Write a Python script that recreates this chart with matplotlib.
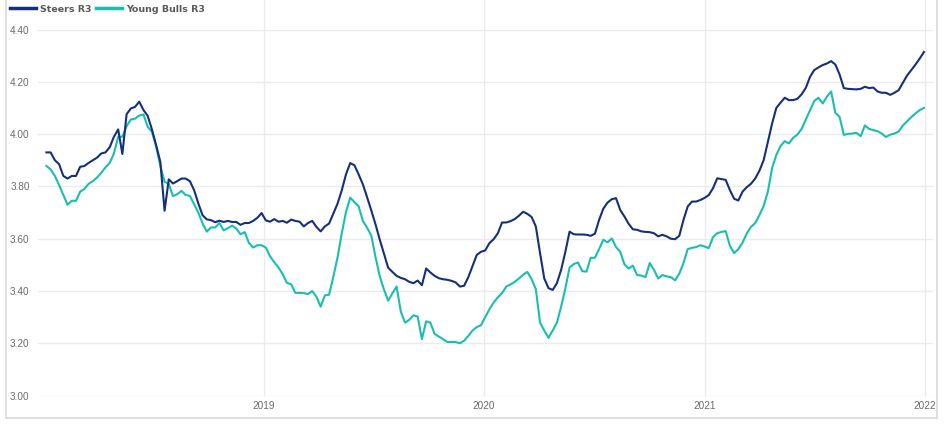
import numpy as np
import pandas as pd
import matplotlib
matplotlib.use("Agg")
import matplotlib.pyplot as plt
from matplotlib.lines import Line2D

# weekly prices, Jan 2018 - Dec 2021
start = "2018-01-05"
steers = [
    3.93, 3.93, 3.90, 3.885, 3.84, 3.83, 3.84, 3.84, 3.875, 3.878,
    3.89, 3.90, 3.91, 3.926, 3.93, 3.95, 3.99, 4.018, 3.924, 4.076,
    4.098, 4.104, 4.124, 4.092, 4.07, 4.018, 3.958, 3.894, 3.707, 3.827,
    3.811, 3.82, 3.83, 3.83, 3.82, 3.786, 3.735, 3.69, 3.674, 3.671,
    3.663, 3.669, 3.664, 3.668, 3.664, 3.664, 3.653, 3.66, 3.66, 3.668,
    3.68, 3.698, 3.67, 3.665, 3.675, 3.665, 3.668, 3.661, 3.673, 3.668,
    3.665, 3.647, 3.66, 3.668, 3.645, 3.628, 3.647, 3.658, 3.696, 3.734,
    3.785, 3.846, 3.889, 3.881, 3.846, 3.808, 3.759, 3.708, 3.655, 3.597,
    3.543, 3.489, 3.473, 3.458, 3.45, 3.445, 3.435, 3.43, 3.44, 3.422,
    3.486, 3.471, 3.458, 3.449, 3.445, 3.443, 3.439, 3.433, 3.417, 3.42,
    3.453, 3.496, 3.538, 3.55, 3.555, 3.583, 3.598, 3.621, 3.662, 3.662,
    3.667, 3.675, 3.688, 3.703, 3.695, 3.683, 3.647, 3.545, 3.448, 3.411,
    3.404, 3.43, 3.481, 3.55, 3.627, 3.617, 3.616, 3.616, 3.615, 3.611,
    3.619, 3.672, 3.715, 3.738, 3.751, 3.755, 3.71, 3.685, 3.657, 3.636,
    3.634, 3.628, 3.626, 3.625, 3.621, 3.609, 3.615, 3.609, 3.60, 3.598,
    3.611, 3.672, 3.723, 3.742, 3.742, 3.748, 3.756, 3.767, 3.793, 3.831,
    3.828, 3.825, 3.786, 3.753, 3.746, 3.78, 3.797, 3.81, 3.83, 3.86,
    3.90, 3.97, 4.04, 4.10, 4.12, 4.139, 4.13, 4.13, 4.135, 4.152,
    4.177, 4.219, 4.245, 4.255, 4.264, 4.27, 4.279, 4.266, 4.228, 4.176,
    4.173, 4.172, 4.171, 4.173, 4.181, 4.176, 4.178, 4.163, 4.158, 4.158,
    4.15, 4.158, 4.168, 4.196, 4.224, 4.245, 4.266, 4.289, 4.314,
]
young_bulls = [
    3.878, 3.865, 3.84, 3.805, 3.767, 3.73, 3.745, 3.745, 3.78, 3.79,
    3.81, 3.82, 3.834, 3.852, 3.873, 3.89, 3.926, 3.99, 3.99, 4.03,
    4.056, 4.059, 4.071, 4.075, 4.028, 4.009, 3.952, 3.878, 3.818, 3.809,
    3.763, 3.77, 3.783, 3.767, 3.764, 3.732, 3.70, 3.659, 3.627, 3.643,
    3.643, 3.66, 3.632, 3.64, 3.65, 3.639, 3.617, 3.625, 3.584, 3.566,
    3.575, 3.575, 3.566, 3.533, 3.51, 3.49, 3.464, 3.431, 3.426, 3.393,
    3.393, 3.392, 3.388, 3.40, 3.378, 3.34, 3.383, 3.386, 3.454, 3.528,
    3.62, 3.702, 3.757, 3.74, 3.724, 3.668, 3.642, 3.612, 3.53, 3.457,
    3.406, 3.363, 3.391, 3.417, 3.321, 3.279, 3.29, 3.307, 3.302, 3.216,
    3.284, 3.279, 3.236, 3.226, 3.216, 3.205, 3.205, 3.205, 3.20, 3.21,
    3.228, 3.249, 3.262, 3.269, 3.30, 3.33, 3.356, 3.376, 3.392, 3.417,
    3.425, 3.435, 3.448, 3.462, 3.473, 3.445, 3.407, 3.279, 3.249, 3.221,
    3.249, 3.279, 3.34, 3.41, 3.49, 3.503, 3.509, 3.476, 3.474, 3.527,
    3.527, 3.56, 3.596, 3.586, 3.601, 3.568, 3.55, 3.502, 3.486, 3.497,
    3.461, 3.459, 3.453, 3.507, 3.481, 3.448, 3.461, 3.456, 3.453, 3.441,
    3.466, 3.507, 3.56, 3.565, 3.568, 3.575, 3.57, 3.564, 3.606, 3.621,
    3.626, 3.629, 3.573, 3.545, 3.56, 3.585, 3.62, 3.645, 3.66, 3.69,
    3.725, 3.78, 3.87, 3.92, 3.954, 3.973, 3.964, 3.986, 3.998, 4.02,
    4.056, 4.092, 4.127, 4.139, 4.117, 4.143, 4.163, 4.081, 4.066, 3.997,
    4.001, 4.002, 4.005, 3.992, 4.033, 4.02, 4.015, 4.011, 4.002, 3.989,
    3.998, 4.002, 4.01, 4.033, 4.049, 4.065, 4.079, 4.092, 4.10,
]
year_ticks = ["2019", "2020", "2021", "2022"]
y_ticks = [3.0, 3.2, 3.4, 3.6, 3.8, 4.0, 4.2, 4.4]

dates = pd.date_range(start, periods=len(steers), freq="7D")

fig = plt.figure(figsize=(9.47, 4.26), dpi=100)
ax = fig.add_axes([38 / 947, 1 - 395.6 / 426, (933 - 38) / 947, (395.6 - 29.5) / 426])

grid_c = "#ebebeb"
years = [pd.Timestamp(y + "-01-01") for y in year_ticks]
for yv in y_ticks:
    ax.axhline(yv, color=grid_c, lw=1, zorder=0)
ax.vlines(years, 3.0, 4.52, color=grid_c, lw=1, zorder=0, clip_on=False)

ax.plot(dates, steers, color="#14307a", lw=1.5, label="Steers R3", zorder=3)
ax.plot(dates, young_bulls, color="#19bfae", lw=1.5, label="Young Bulls R3", zorder=2)

ax.set_xlim(pd.Timestamp("2017-12-22"), pd.Timestamp("2022-01-15"))
ax.set_ylim(3.0, 4.4)
ax.set_xticks(years)
ax.set_xticklabels(year_ticks)
ax.set_yticks(y_ticks)
ax.set_yticklabels(["%.2f" % v for v in y_ticks])
for s in ax.spines.values():
    s.set_visible(False)
ax.tick_params(length=0, labelsize=7.2, labelcolor="#6a6a6a")
ax.tick_params(axis="y", pad=6)
ax.tick_params(axis="x", pad=4)
for lab in ax.get_xticklabels() + ax.get_yticklabels():
    lab.set_family("Liberation Sans")

leg = ax.legend(loc="upper left", bbox_to_anchor=(10 / 947, 1 - 4.5 / 426),
                bbox_transform=fig.transFigure, ncol=2, frameon=False,
                handlelength=2.8, handletextpad=0.4, columnspacing=0.45,
                borderaxespad=0, borderpad=0,
                prop={"family": "DejaVu Sans", "weight": "bold", "size": 6.8})
for t in leg.get_texts():
    t.set_color("#5a5a5a")
for h in leg.get_lines():
    h.set_linewidth(2.5)

# outer frame
fc = "#d9d9d9"
fig.add_artist(Line2D([5.7 / 947, 5.7 / 947], [1, 1 - 418 / 426], color=fc, lw=1.2))
fig.add_artist(Line2D([5.7 / 947, 937 / 947], [1 - 418 / 426, 1 - 418 / 426], color=fc, lw=1.2))
fig.add_artist(Line2D([937 / 947, 937 / 947], [1, 1 - 418 / 426], color=fc, lw=1.2))

fig.savefig("out.png", dpi=100)
